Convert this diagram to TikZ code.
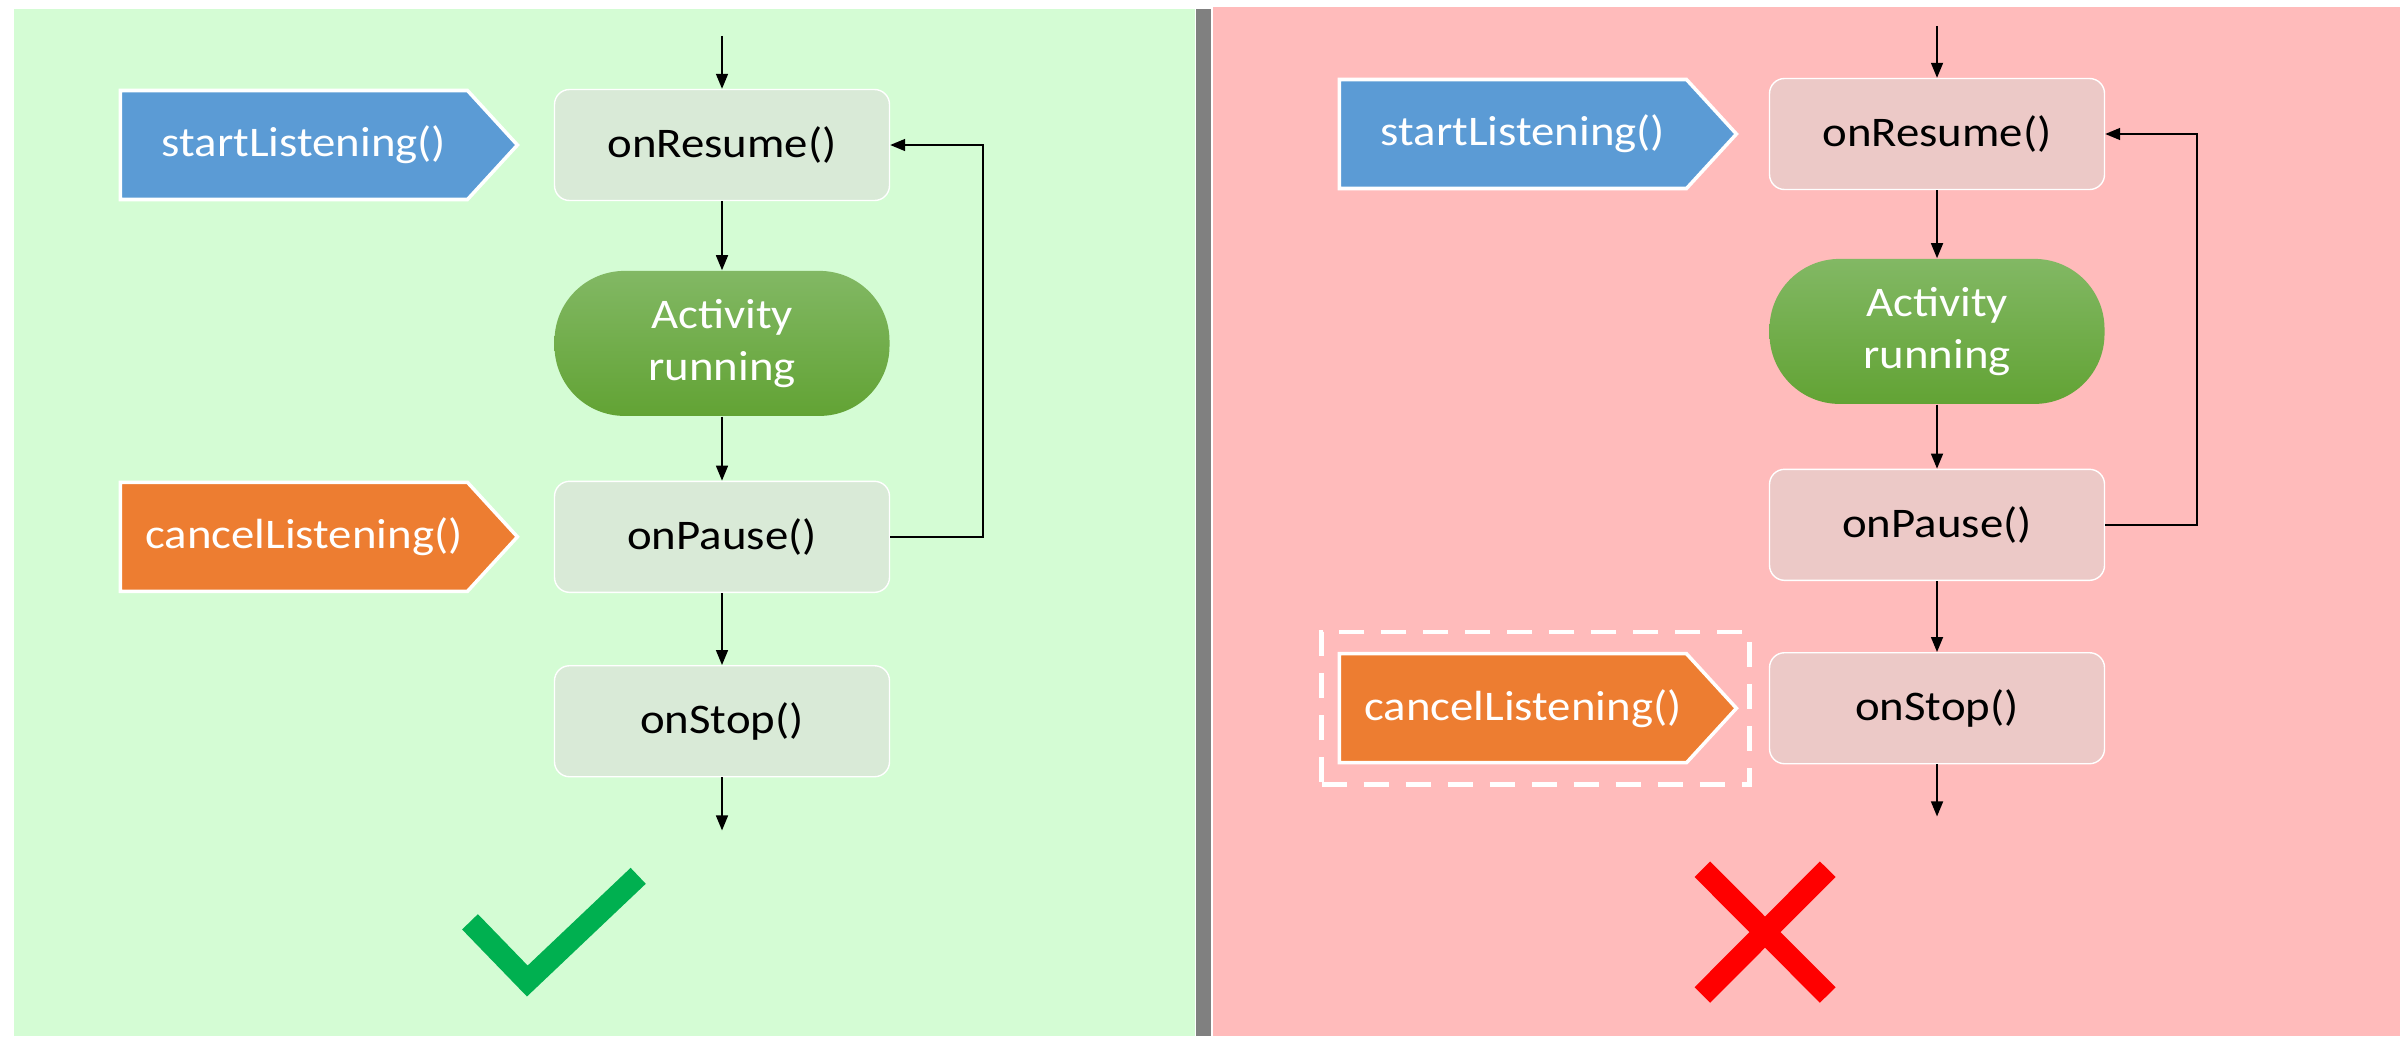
\documentclass[tikz,border=0pt]{standalone}
\usepackage{fontspec}
\setmainfont{Carlito}[FakeStretch=1.11]
\usepackage{tikz}
\usetikzlibrary{arrows.meta,positioning,shapes.symbols,fit}
\definecolor{cGoodBg}{HTML}{D4FCD4}
\definecolor{cBadBg}{HTML}{FFBBBB}
\definecolor{cBar}{HTML}{808080}
\definecolor{cGoodBox}{HTML}{D9EAD7}
\definecolor{cBadBox}{HTML}{ECC9C7}
\definecolor{cStart}{HTML}{5B9BD5}
\definecolor{cCancel}{HTML}{ED7D31}
\definecolor{cRunTop}{HTML}{82B864}
\definecolor{cRunBot}{HTML}{62A334}
\definecolor{cOk}{HTML}{00B050}
\definecolor{cNo}{HTML}{FF0000}
\tikzset{
  box/.style={rounded corners=1.5mm, draw=white, line width=0.4pt, fill=#1,
              text=black, align=center, minimum width=33.5mm,
              minimum height=11.1mm, inner sep=2pt},
  goodbox/.style={box=cGoodBox},
  badbox/.style={box=cBadBox},
  run/.style={rounded corners=7mm, top color=cRunTop, bottom color=cRunBot,
              text=white, align=center, minimum width=33.5mm,
              minimum height=14.5mm, inner sep=2pt},
  call/.style={signal, signal to=east, signal pointer angle=95, draw=white,
               line width=1pt, fill=#1, text=white, minimum width=39.7mm,
               minimum height=10.9mm, inner xsep=0pt, inner ysep=2pt,
               execute at begin node=\hspace*{2mm}},
  startcall/.style={call=cStart},
  cancelcall/.style={call=cCancel},
  flow/.style={-{Triangle[length=1.5mm,width=1.2mm]}, line width=0.45pt, draw=black},
  hint/.style={draw=white, line width=1.4pt, dash pattern=on 2.5mm off 1.7mm},
  okmark/.style={draw=cOk, line width=2.2mm, line join=miter},
  nomark/.style={draw=cNo, line width=2.2mm},
}
\begin{document}
\begin{tikzpicture}[font=\fontsize{12}{15}\selectfont, node distance=6.8mm and 3.4mm]
  \useasboundingbox (0,0) rectangle (24,-10.36);
  % the two panels
  \fill[cGoodBg] (0.14,-0.09) rectangle (11.95,-10.36);
  \fill[cBar] (11.96,-0.09) rectangle (12.11,-10.36);
  \fill[cBadBg] (12.13,-0.07) rectangle (24,-10.36);

  % left: listening stopped in onPause()
  \node[goodbox] (resumeL) at (7.22,-1.45) {onResume()};
  \node[run, below=6.9mm of resumeL] (runL) {Activity\\running};
  \node[goodbox, below=6.4mm of runL] (pauseL) {onPause()};
  \node[goodbox, below=7.2mm of pauseL] (stopL) {onStop()};
  \node[startcall, left=of resumeL] (startL) {startListening()};
  \node[cancelcall, left=of pauseL] (cancelL) {cancelListening()};
  \coordinate[above=5.3mm of resumeL] (inL);
  \coordinate[below=5.3mm of stopL] (outL);

  \draw[flow] (inL) -- (resumeL);
  \draw[flow] (resumeL) -- (runL);
  \draw[flow] (runL) -- (pauseL);
  \draw[flow] (pauseL) -- (stopL);
  \draw[flow] (stopL) -- (outL);
  \draw[flow] (pauseL.east) -- ++(0.93,0) |- (resumeL.east);

  \draw[okmark] (4.70,-9.218) -- (5.273,-9.81) -- (6.382,-8.758);

  % right: listening stopped in onStop()
  \node[badbox] (resumeR) at (19.37,-1.34) {onResume()};
  \node[run, below=6.8mm of resumeR] (runR) {Activity\\running};
  \node[badbox, below=6.4mm of runR] (pauseR) {onPause()};
  \node[badbox, below=7.1mm of pauseR] (stopR) {onStop()};
  \node[startcall, left=3mm of resumeR] (startR) {startListening()};
  \node[cancelcall, left=3mm of stopR] (cancelR) {cancelListening()};
  \node[hint, fit=(cancelR), inner xsep=1.35mm, inner ysep=2mm, xshift=-0.25mm] (wrong) {};
  \coordinate[above=5.2mm of resumeR] (inR);
  \coordinate[below=5.2mm of stopR] (outR);

  \draw[flow] (inR) -- (resumeR);
  \draw[flow] (resumeR) -- (runR);
  \draw[flow] (runR) -- (pauseR);
  \draw[flow] (pauseR) -- (stopR);
  \draw[flow] (stopR) -- (outR);
  \draw[flow] (pauseR.east) -- ++(0.92,0) |- (resumeR.east);

  \draw[nomark] (17.023,-8.692) -- (18.277,-9.95);
  \draw[nomark] (18.277,-8.692) -- (17.023,-9.95);
\end{tikzpicture}
\end{document}
